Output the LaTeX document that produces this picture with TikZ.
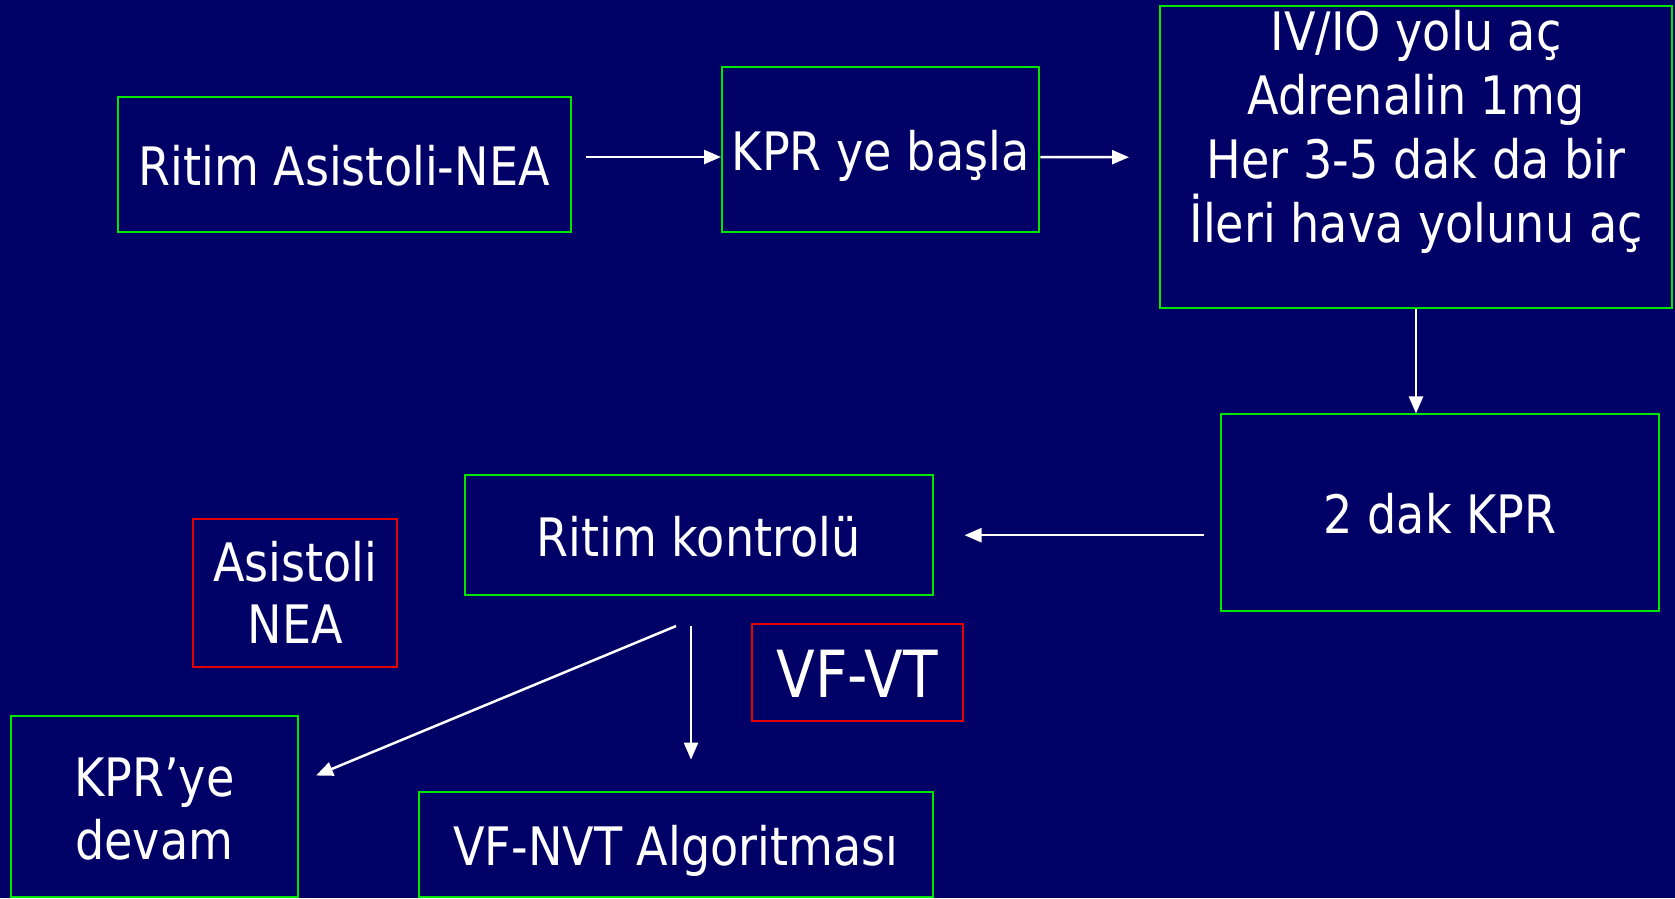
\documentclass[tikz,border=0pt]{standalone}
\usepackage{fontspec}
\setmainfont{DejaVu Sans}[FakeStretch=0.87]
\usetikzlibrary{arrows.meta}
\definecolor{slidebg}{RGB}{0,0,102}
\definecolor{boxgreen}{RGB}{0,230,0}
\definecolor{boxred}{RGB}{230,0,0}

\begin{document}
\begin{tikzpicture}[
        x = 1pt, y = -1pt,
        every node/.style = {
                text = white,
                inner sep = 0pt,
                font = \fontsize{53}{64}\selectfont
            },
        stepbox/.style = {draw = boxgreen, line width = 2pt},
        casebox/.style = {draw = boxred, line width = 2pt},
        flow/.style = {
                draw = white,
                line width = 2.5pt,
                -{Triangle[length = 17pt, width = 14pt]}
            }
    ]

    \fill[slidebg] (0,0) rectangle (1675,898);
    \useasboundingbox (0,0) rectangle (1675,898);

    \node[stepbox, minimum width = 453pt, minimum height = 134.6pt,
        text height = 42.4pt, text depth = 0pt] (ritim) at (344,164.5) {Ritim Asistoli-NEA};
    \node[stepbox, minimum width = 317.4pt, minimum height = 164.5pt,
        text height = 42.4pt, text depth = 0pt] (kpr) at (880.7,149.5) {KPR ye başla};
    \node[stepbox, align = center, minimum width = 512pt, minimum height = 301.5pt,
        text height = 182.7pt, text depth = 12.5pt] (ilac) at (1416,157.2)
        {IV/IO yolu aç\\Adrenalin 1mg\\Her 3-5 dak da bir\\İleri hava yolunu aç};
    \node[stepbox, minimum width = 438pt, minimum height = 196.5pt,
        text height = 41.2pt, text depth = 0pt] (kprdak) at (1440,512.7) {2 dak KPR};
    \node[stepbox, minimum width = 467.8pt, minimum height = 119.7pt,
        text height = 43pt, text depth = 0pt] (kontrol) at (698.6,535.2) {Ritim kontrolü};
    \node[casebox, align = center, font = \fontsize{53}{61.7}\selectfont,
        minimum width = 204pt, minimum height = 148pt,
        text height = 100.6pt, text depth = 0pt] (asis) at (295.4,593) {Asistoli\\NEA};
    \node[casebox, font = \fontsize{65}{78}\selectfont,
        minimum width = 211pt, minimum height = 97pt,
        text height = 49.6pt, text depth = 0pt] (vfvt) at (857.2,672.5) {VF-VT};
    \node[stepbox, align = center, font = \fontsize{53}{63.3}\selectfont,
        minimum width = 287.3pt, minimum height = 181pt,
        text height = 105.6pt, text depth = 0pt] (devam) at (154.4,806.5) {KPR’ye\\devam};
    \node[stepbox, minimum width = 514pt, minimum height = 105pt,
        text height = 41pt, text depth = 0pt] (algo) at (676,844.5) {VF-NVT Algoritması};

    \draw[flow] ([xshift = 14.6pt, yshift = 7.5pt]ritim.east) -- ([yshift = -7.5pt]kpr.west);
    \draw[flow] ([yshift = -7.5pt]kpr.east) -- ([xshift = -30pt]ilac.west);
    \draw[flow] (ilac.south) -- (ilac.south |- kprdak.north);
    \draw[flow] ([xshift = -16pt]kprdak.west |- kontrol.east) -- ([xshift = 31pt]kontrol.east);
    \draw[flow] ([xshift = -22.6pt, yshift = -30pt]kontrol.south) -- ([xshift = 17pt, yshift = 31pt]devam.east);
    \draw[flow] ([xshift = -7.6pt, yshift = -30pt]kontrol.south) -- ([xshift = 15pt, yshift = 31.4pt]algo.north);

\end{tikzpicture}
\end{document}
